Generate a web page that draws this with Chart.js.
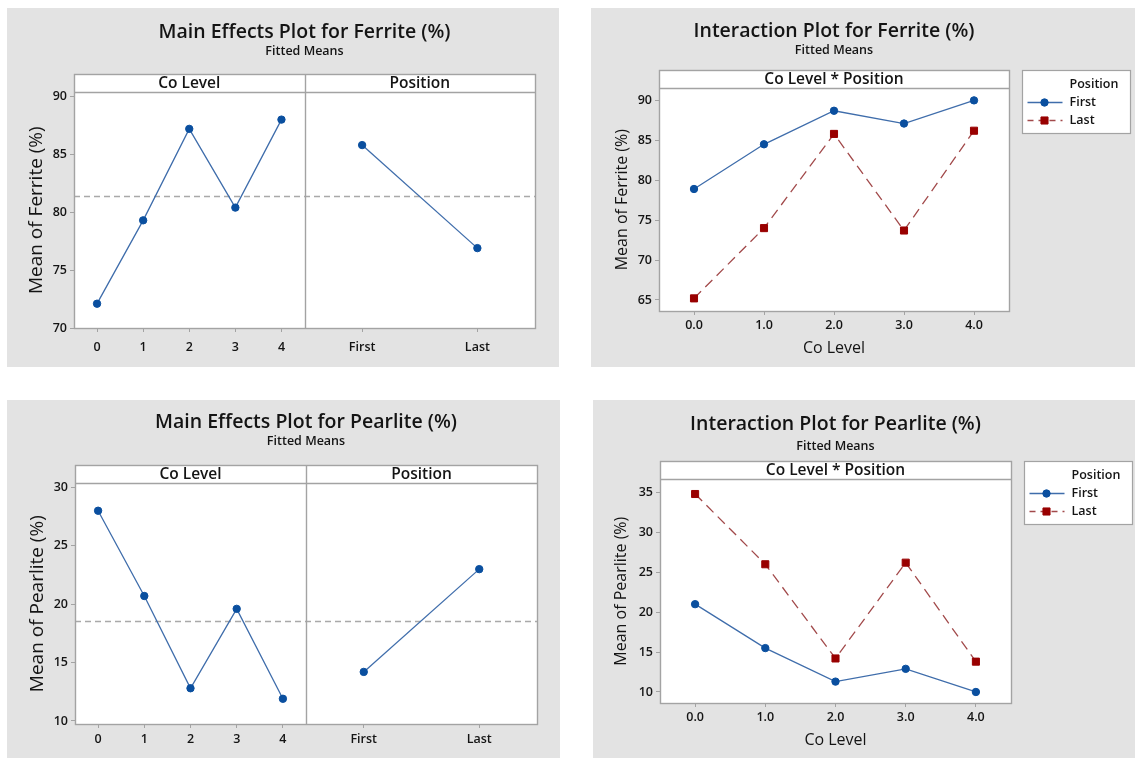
<!DOCTYPE html>
<html>
<head>
<meta charset="utf-8">
<title>Ferrite and Pearlite – Main Effects and Interaction Plots</title>
<script src="https://cdn.jsdelivr.net/npm/chart.js@4.4.1/dist/chart.umd.min.js"></script>
<style>
  html, body { margin: 0; padding: 0; background: #ffffff; width: 1135px; height: 758px; overflow: hidden; }
  .panel { position: absolute; background: #e3e3e3; }
  .panel canvas { position: absolute; left: 0; top: 0; }
</style>
</head>
<body>
<div class="panel" style="left:7px;top:8px;width:552px;height:359px"><canvas id="ferriteMain" width="552" height="359"></canvas></div>
<div class="panel" style="left:591px;top:8px;width:544px;height:359px"><canvas id="ferriteInter" width="544" height="359"></canvas></div>
<div class="panel" style="left:7px;top:400px;width:553px;height:358px"><canvas id="pearliteMain" width="553" height="358"></canvas></div>
<div class="panel" style="left:593px;top:400px;width:542px;height:358px"><canvas id="pearliteInter" width="542" height="358"></canvas></div>
<script>
// ---- data ----
const coLevels = ['0', '1', '2', '3', '4'];
const coLevelsInteraction = ['0.0', '1.0', '2.0', '3.0', '4.0'];
const positions = ['First', 'Last'];

const ferriteByCo = [72.1, 79.3, 87.2, 80.4, 88.0];
const ferriteByPosition = [85.8, 76.9];
const ferriteFirst = [78.9, 84.5, 88.7, 87.1, 90.0];
const ferriteLast = [65.2, 74.0, 85.8, 73.7, 86.2];

const pearliteByCo = [28.0, 20.7, 12.8, 19.6, 11.9];
const pearliteByPosition = [14.2, 23.0];
const pearliteFirst = [21.0, 15.5, 11.3, 12.9, 10.0];
const pearliteLast = [34.8, 26.0, 14.2, 26.2, 13.8];

const ferriteMainTicks = [70, 75, 80, 85, 90];
const ferriteInterTicks = [65, 70, 75, 80, 85, 90];
const pearliteMainTicks = [10, 15, 20, 25, 30];
const pearliteInterTicks = [10, 15, 20, 25, 30, 35];

// ---- styling ----
const FONT = "'Open Sans', 'Noto Sans', sans-serif";
const TEXT = '#141414';
const FRAME = '#a3a3a3';
const BLUE_LINE = '#3f6dab';
const BLUE_MARK = '#0a4f9f';
const RED_LINE = '#a24a4b';
const RED_MARK = '#990000';
const MEAN_LINE = '#a9a9a9';
const STRIP_H = 18;

Chart.defaults.font.family = FONT;
Chart.defaults.color = TEXT;

const TICK_FONT = { family: FONT, size: 12.5, weight: '600' };

const firstStyle = {
  borderColor: BLUE_LINE, borderWidth: 1.3,
  pointStyle: 'circle', pointRadius: 3.7, pointHoverRadius: 3.7,
  pointBackgroundColor: BLUE_MARK, pointBorderColor: BLUE_MARK, pointBorderWidth: 1
};
const lastStyle = {
  borderColor: RED_LINE, borderWidth: 1.3, borderDash: [10, 6],
  pointStyle: 'rect', pointRadius: 5, pointHoverRadius: 5,
  pointBackgroundColor: RED_MARK, pointBorderColor: RED_MARK, pointBorderWidth: 1
};

// White facet area, header strips, frame, dividers and the overall-mean reference line
const facetFrame = {
  id: 'facetFrame',
  beforeDraw(chart, args, opts) {
    const { ctx, chartArea: a } = chart;
    ctx.save();
    ctx.fillStyle = '#ffffff';
    ctx.fillRect(a.left, a.top - STRIP_H, a.right - a.left, a.bottom - a.top + STRIP_H);
    ctx.restore();
  },
  beforeDatasetsDraw(chart, args, opts) {
    if (opts.meanValue === undefined || opts.meanValue === null) return;
    const { ctx, chartArea: a } = chart;
    const y = Math.round(chart.scales.y.getPixelForValue(opts.meanValue)) + 0.5;
    ctx.save();
    ctx.strokeStyle = MEAN_LINE;
    ctx.lineWidth = 1.3;
    ctx.setLineDash([6, 4]);
    ctx.beginPath();
    ctx.moveTo(a.left, y);
    ctx.lineTo(a.right, y);
    ctx.stroke();
    ctx.restore();
  },
  afterDraw(chart, args, opts) {
    const { ctx, chartArea: a } = chart;
    const top = Math.round(a.top - STRIP_H) + 0.5;
    const L = Math.round(a.left) + 0.5, R = Math.round(a.right) + 0.5;
    const T = Math.round(a.top) + 0.5, B = Math.round(a.bottom) + 0.5;
    ctx.save();
    ctx.strokeStyle = FRAME;
    ctx.lineWidth = 1.4;
    ctx.strokeRect(L, top, R - L, B - top);
    ctx.beginPath();
    ctx.moveTo(L, T);
    ctx.lineTo(R, T);
    ctx.stroke();
    ctx.fillStyle = TEXT;
    ctx.font = `600 15.5px ${FONT}`;
    ctx.textAlign = 'center';
    ctx.textBaseline = 'middle';
    (opts.strips || []).forEach(s => {
      const sc = chart.scales[s.scale];
      if (sc.left > a.left + 2) {
        const x = Math.round(sc.left) + 0.5;
        ctx.beginPath();
        ctx.moveTo(x, top);
        ctx.lineTo(x, B);
        ctx.stroke();
      }
      ctx.fillText(s.text, (sc.left + sc.right) / 2, top + STRIP_H / 2 + 0.5);
    });
    ctx.restore();
  }
};

// Boxed legend to the right of the interaction facet
const boxedLegend = {
  id: 'boxedLegend',
  afterDraw(chart, args, opts) {
    if (!opts.display) return;
    const { ctx, chartArea: a } = chart;
    const x = Math.round(a.right + opts.gap) + 0.5;
    const y = Math.round(a.top - STRIP_H) + 0.5;
    const w = opts.width, h = opts.height;
    ctx.save();
    ctx.fillStyle = '#ffffff';
    ctx.fillRect(x, y, w, h);
    ctx.strokeStyle = FRAME;
    ctx.lineWidth = 1.2;
    ctx.strokeRect(x, y, w, h);
    ctx.fillStyle = TEXT;
    ctx.textAlign = 'left';
    ctx.textBaseline = 'middle';
    ctx.font = `600 12.5px ${FONT}`;
    ctx.fillText(opts.title, x + 47, y + 14);
    chart.data.datasets.forEach((ds, i) => {
      const ry = y + 32 + i * 18;
      ctx.strokeStyle = ds.borderColor;
      ctx.lineWidth = ds.borderWidth;
      ctx.setLineDash(ds.borderDash ? [6, 5] : []);
      ctx.beginPath();
      ctx.moveTo(x + 5, ry);
      ctx.lineTo(x + 40, ry);
      ctx.stroke();
      ctx.setLineDash([]);
      ctx.fillStyle = ds.pointBackgroundColor;
      ctx.strokeStyle = ds.pointBorderColor;
      ctx.lineWidth = 1;
      Chart.helpers.drawPoint(ctx, { pointStyle: ds.pointStyle, radius: ds.pointRadius, borderWidth: 1, rotation: 0 }, x + 22, ry);
      ctx.fillStyle = TEXT;
      ctx.font = `600 12.5px ${FONT}`;
      ctx.fillText(ds.label, x + 47, ry);
    });
    ctx.restore();
  }
};

function yScale(min, max, tickValues, titleText, g) {
  return {
    type: 'linear', position: 'left', min, max,
    afterBuildTicks: s => { s.ticks = tickValues.map(v => ({ value: v })); },
    afterFit: s => { s.width = g.leftW; },
    grid: { drawOnChartArea: false, tickLength: 4, color: FRAME, lineWidth: 1 },
    border: { display: false },
    ticks: { padding: 3, font: TICK_FONT, color: TEXT },
    title: { display: true, text: titleText, color: TEXT, padding: g.yTitlePad,
             font: { family: FONT, size: g.yTitleSize, weight: '400' } }
  };
}

function xScale(labels, g, stack, titleText) {
  const s = {
    type: 'category', position: 'bottom', labels, offset: true,
    afterFit: sc => { sc.height = g.bottomH; },
    grid: { drawOnChartArea: false, tickLength: 4, color: FRAME, lineWidth: 1 },
    border: { display: false },
    ticks: { padding: g.tickPad, font: TICK_FONT, color: TEXT, maxRotation: 0, autoSkip: false }
  };
  if (stack) { s.stack = stack; s.stackWeight = 1; }
  if (titleText) {
    s.title = { display: true, text: titleText, color: TEXT, padding: g.xTitlePad,
                font: { family: FONT, size: 16, weight: '400' } };
  }
  return s;
}

function titles(main, g) {
  return {
    title: { display: true, text: main, fullSize: false, color: TEXT,
             font: { family: FONT, size: 19.5, weight: '600' }, padding: { top: g.titleTop, bottom: g.titleBottom } },
    subtitle: { display: true, text: 'Fitted Means', fullSize: false, color: TEXT,
                font: { family: FONT, size: 12.5, weight: '600' }, padding: { top: 0, bottom: g.subBottom } }
  };
}

function mainEffectsChart(id, name, byCo, byPos, ticks, yMin, yMax, g) {
  const mean = byCo.reduce((s, v) => s + v, 0) / byCo.length;
  return new Chart(document.getElementById(id), {
    type: 'line',
    data: {
      datasets: [
        Object.assign({ label: 'Co Level', data: byCo, xAxisID: 'xCo', yAxisID: 'y' }, firstStyle),
        Object.assign({ label: 'Position', data: byPos, xAxisID: 'xPos', yAxisID: 'y' }, firstStyle)
      ]
    },
    options: {
      responsive: false, animation: false, events: [],
      layout: { padding: { left: 0, right: g.right, top: 0, bottom: 0 } },
      scales: {
        xCo: xScale(coLevels, g, 'facets'),
        xPos: xScale(positions, g, 'facets'),
        y: yScale(yMin, yMax, ticks, `Mean of ${name} (%)`, g)
      },
      plugins: Object.assign({
        legend: { display: false },
        tooltip: { enabled: false },
        facetFrame: { meanValue: mean, strips: [{ scale: 'xCo', text: 'Co Level' }, { scale: 'xPos', text: 'Position' }] },
        boxedLegend: { display: false }
      }, titles(`Main Effects Plot for ${name} (%)`, g))
    },
    plugins: [facetFrame, boxedLegend]
  });
}

function interactionChart(id, name, first, last, ticks, yMin, yMax, g) {
  return new Chart(document.getElementById(id), {
    type: 'line',
    data: {
      labels: coLevelsInteraction,
      datasets: [
        Object.assign({ label: positions[0], data: first }, firstStyle),
        Object.assign({ label: positions[1], data: last }, lastStyle)
      ]
    },
    options: {
      responsive: false, animation: false, events: [],
      layout: { padding: { left: 0, right: g.right, top: 0, bottom: 0 } },
      scales: {
        x: xScale(coLevelsInteraction, g, null, 'Co Level'),
        y: yScale(yMin, yMax, ticks, `Mean of ${name} (%)`, g)
      },
      plugins: Object.assign({
        legend: { display: false },
        tooltip: { enabled: false },
        facetFrame: { meanValue: null, strips: [{ scale: 'x', text: 'Co Level * Position' }] },
        boxedLegend: { display: true, title: 'Position', gap: 13, width: 108, height: 63 }
      }, titles(`Interaction Plot for ${name} (%)`, g))
    },
    plugins: [facetFrame, boxedLegend]
  });
}

mainEffectsChart('ferriteMain', 'Ferrite', ferriteByCo, ferriteByPosition, ferriteMainTicks, 70, 90.35,
  { leftW: 67, right: 24, bottomH: 39, tickPad: 8, yTitleSize: 19, yTitlePad: 18, titleTop: 12.5, titleBottom: 0, subBottom: 33.5 });

interactionChart('ferriteInter', 'Ferrite', ferriteFirst, ferriteLast, ferriteInterTicks, 63.62, 91.5,
  { leftW: 68, right: 126, bottomH: 56, tickPad: 3, xTitlePad: 9, yTitleSize: 16, yTitlePad: 22, titleTop: 12, titleBottom: 0, subBottom: 30 });

mainEffectsChart('pearliteMain', 'Pearlite', pearliteByCo, pearliteByPosition, pearliteMainTicks, 9.74, 30.34,
  { leftW: 68, right: 23, bottomH: 34, tickPad: 4, yTitleSize: 19, yTitlePad: 19.5, titleTop: 11, titleBottom: 0, subBottom: 34 });

interactionChart('pearliteInter', 'Pearlite', pearliteFirst, pearliteLast, pearliteInterTicks, 8.62, 36.63,
  { leftW: 67, right: 124, bottomH: 55, tickPad: 3, xTitlePad: 8, yTitleSize: 16, yTitlePad: 19, titleTop: 13, titleBottom: 3, subBottom: 25 });
</script>
</body>
</html>
